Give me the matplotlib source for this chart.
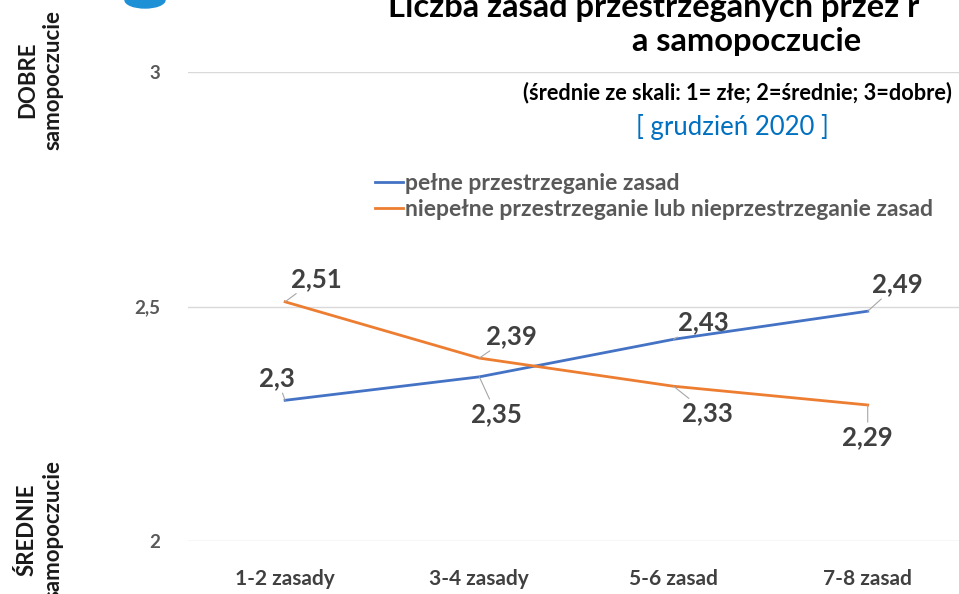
import matplotlib
matplotlib.use("Agg")
import matplotlib.pyplot as plt
from matplotlib.patches import Ellipse

plt.rcParams['font.family'] = ['Lato', 'DejaVu Sans']

categories = ["1-2 zasady", "3-4 zasady", "5-6 zasad", "7-8 zasad"]
full_rules = [2.30, 2.35, 2.43, 2.49]
partial_rules = [2.51, 2.39, 2.33, 2.29]
series_names = ["pełne przestrzeganie zasad",
                "niepełne przestrzeganie lub nieprzestrzeganie zasad"]
y_ticks = [2, 2.5, 3]
y_tick_labels = ["2", "2,5", "3"]

W, H = 959, 594


def fx(x):
    return x / W


def fy(y):
    return 1 - y / H


fig = plt.figure(figsize=(W / 100, H / 100), dpi=100)
ax = fig.add_axes([fx(188), fy(541), fx(959) - fx(188), fy(72) - fy(541)])

x = list(range(len(categories)))
blue = "#4472C4"
orange = "#ED7D31"
ax.plot(x, full_rules, color=blue, lw=2.0, label=series_names[0])
ax.plot(x, partial_rules, color=orange, lw=2.0, label=series_names[1])

ax.set_xlim(-0.5, 3.47)
ax.set_ylim(2, 3)
ax.set_yticks(y_ticks)
ax.set_yticklabels(y_tick_labels)
ax.set_xticks(x)
ax.set_xticklabels(categories)
ax.grid(axis="y", color="#D9D9D9", lw=1)
ax.set_axisbelow(True)
for s in ax.spines.values():
    s.set_visible(False)
ax.tick_params(length=0)
ax.tick_params(axis="y", pad=20, labelsize=13.5, labelcolor="#595959")
ax.tick_params(axis="x", pad=20, labelsize=15, labelcolor="#404040")
for t in ax.get_yticklabels() + ax.get_xticklabels():
    t.set_fontweight("bold")

# data labels with leader lines
blue_off = [(-8, 22), (17, -37), (30, 17), (30, 27)]
orange_off = [(31, 23), (32, 22), (34, -27), (0, -32)]


def fmt(v):
    return ("%g" % v).replace(".", ",")


for vals, offs in [(full_rules, blue_off), (partial_rules, orange_off)]:
    for xi, v, (dx, dy) in zip(x, vals, offs):
        ax.annotate(fmt(v), xy=(xi, v), xytext=(dx, dy),
                    textcoords="offset pixels", ha="center", va="center",
                    fontsize=18.5, fontweight="bold", color="#404040",
                    arrowprops=dict(arrowstyle="-", color="#A6A6A6", lw=0.8,
                                    shrinkA=0, shrinkB=0))

leg = ax.legend(loc="upper left", bbox_to_anchor=(fx(375), fy(173)),
                bbox_transform=fig.transFigure, frameon=False,
                handlelength=1.2, handletextpad=0.1, labelspacing=0.2,
                borderpad=0, borderaxespad=0, prop=dict(size=16.5, weight="bold"))
for t in leg.get_texts():
    t.set_color("#595959")

# titles (first line is cut by the top edge, as in the source)
fig.text(fx(388), fy(17), "Liczba zasad przestrzeganych przez r",
         ha="left", va="baseline", fontsize=23.5, fontweight="bold", color="black")
fig.text(fx(747), fy(51), "a samopoczucie", ha="center", va="baseline",
         fontsize=23.5, fontweight="bold", color="black")
fig.text(fx(952), fy(93), "(średnie ze skali: 1= złe; 2=średnie; 3=dobre)",
         ha="right", va="center", fontsize=15.7, fontweight="bold", color="black")
fig.text(fx(732), fy(127), "[ grudzień 2020 ]", ha="center", va="center",
         fontsize=18.5, color="#0070C0")

# side labels
fig.text(fx(40), fy(80), "DOBRE\nsamopoczucie", rotation=90, ha="center",
         va="center", multialignment="center", fontsize=16, fontweight="bold",
         color="#1A1A1A", linespacing=1.25)
fig.text(fx(40), fy(530), "ŚREDNIE\nsamopoczucie", rotation=90, ha="center",
         va="center", multialignment="center", fontsize=16, fontweight="bold",
         color="#1A1A1A", linespacing=1.25)

# logo fragment
fig.patches.append(Ellipse((fx(145), fy(0)), fx(40), 16 / H, color="#1E90D6",
                           transform=fig.transFigure, figure=fig))

fig.savefig("out.png", dpi=100)
